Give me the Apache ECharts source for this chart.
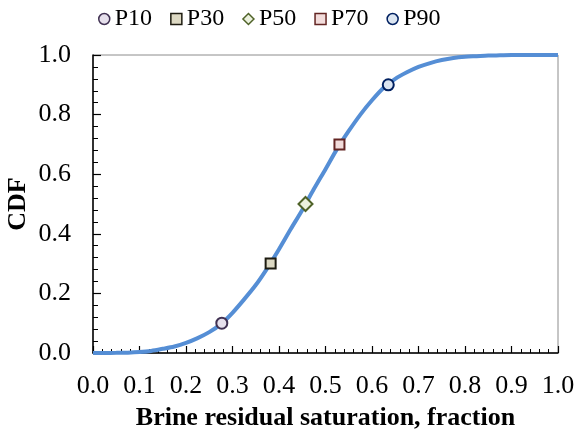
<!DOCTYPE html>
<html><head><meta charset="utf-8">
<script src="https://cdn.jsdelivr.net/npm/echarts@6/dist/echarts.min.js"></script>
<style>html,body{margin:0;padding:0;background:#fff}#c{width:577px;height:436px}</style>
</head><body><div id="c"></div>
<script>
const curveX = [0, 0.025, 0.05, 0.075, 0.1, 0.125, 0.15, 0.175, 0.2, 0.225, 0.25, 0.275, 0.3, 0.325, 0.35, 0.375, 0.4, 0.425, 0.45, 0.475, 0.5, 0.525, 0.55, 0.575, 0.6, 0.625, 0.65, 0.675, 0.7, 0.725, 0.75, 0.775, 0.8, 0.825, 0.85, 0.875, 0.9, 0.95, 1.0];
const curveY = [0, 0.0002, 0.0005, 0.001, 0.003, 0.007, 0.014, 0.022, 0.034, 0.05, 0.07, 0.097, 0.135, 0.18, 0.228, 0.285, 0.348, 0.415, 0.48, 0.55, 0.617, 0.685, 0.745, 0.80, 0.848, 0.89, 0.92, 0.942, 0.96, 0.973, 0.983, 0.99, 0.994, 0.996, 0.998, 0.999, 1.0, 1.0, 1.0];
const pNames = ['P10', 'P30', 'P50', 'P70', 'P90'];
const pX = [0.277, 0.382, 0.457, 0.530, 0.635];
const pY = [0.1, 0.3, 0.5, 0.7, 0.9];
const pSymbols = ['circle', 'rect', 'diamond', 'rect', 'circle'];
const pFill = ['#e6e0ec', '#ddd9c3', '#ebf1de', '#f2dcdb', '#dbe5f1'];
const pBorder = ['#403152', '#1d1b10', '#4f6228', '#632523', '#002060'];
const xTicks = ['0.0','0.1','0.2','0.3','0.4','0.5','0.6','0.7','0.8','0.9','1.0'];

const font = 'Liberation Serif';
const chart = echarts.init(document.getElementById('c'));
const series = [{
  type: 'line', name: 'CDF', smooth: 0.3, showSymbol: false, symbol: 'none',
  data: curveX.map((x, i) => [x, curveY[i]]),
  lineStyle: { color: '#558ed5', width: 4 }, z: 2, silent: true
}];
pNames.forEach((n, i) => {
  series.push({
    type: 'scatter', name: n, symbol: pSymbols[i],
    symbolSize: pSymbols[i] === 'diamond' ? 14 : (pSymbols[i] === 'circle' ? 11 : 10),
    data: [[pX[i], pY[i]]],
    itemStyle: { color: pFill[i], borderColor: pBorder[i], borderWidth: 2, opacity: 1 },
    z: 5
  });
});
chart.setOption({
  animation: false,
  legend: {
    data: pNames.map((n, i) => ({ name: n, itemStyle: { color: pFill[i], borderColor: pBorder[i], borderWidth: 1.5 } })),
    top: 2, left: 93, itemWidth: 11, itemHeight: 11, itemGap: 18,
    textStyle: { fontFamily: font, fontSize: 24, color: '#000', padding: [0, 0, 0, 0] }
  },
  grid: { left: 93, right: 19, top: 55, bottom: 83, show: true, borderColor: '#8c8c8c', borderWidth: 1, containLabel: false, outerBoundsMode: 'none' },
  xAxis: {
    type: 'value', min: 0, max: 1, interval: 0.1,
    name: 'Brine residual saturation, fraction', nameLocation: 'middle', nameGap: 52,
    nameTextStyle: { fontFamily: font, fontSize: 26, fontWeight: 'bold', color: '#000' },
    axisLine: { show: true, lineStyle: { color: '#000', width: 1.5 } },
    axisTick: { show: true, inside: true, length: 7, lineStyle: { color: '#000', width: 1.2 } },
    minorTick: { show: true, splitNumber: 5, length: 4, lineStyle: { color: '#000', width: 1 } },
    splitLine: { show: false },
    axisLabel: { fontFamily: font, fontSize: 26, color: '#000', margin: 20, formatter: (v) => xTicks[Math.round(v * 10)] }
  },
  yAxis: {
    type: 'value', min: 0, max: 1, interval: 0.2,
    name: 'CDF', nameLocation: 'middle', nameGap: 62, nameRotate: 90, nameMoveOverlap: false,
    nameTextStyle: { fontFamily: font, fontSize: 26, fontWeight: 'bold', color: '#000' },
    axisLine: { show: true, lineStyle: { color: '#000', width: 1.5 } },
    axisTick: { show: true, inside: true, length: 8, lineStyle: { color: '#000', width: 1.2 } },
    minorTick: { show: true, splitNumber: 5, length: 5, lineStyle: { color: '#000', width: 1 } },
    splitLine: { show: false },
    axisLabel: { fontFamily: font, fontSize: 26, color: '#000', margin: 22, formatter: (v) => v.toFixed(1) }
  },
  series: series
});
</script></body></html>
